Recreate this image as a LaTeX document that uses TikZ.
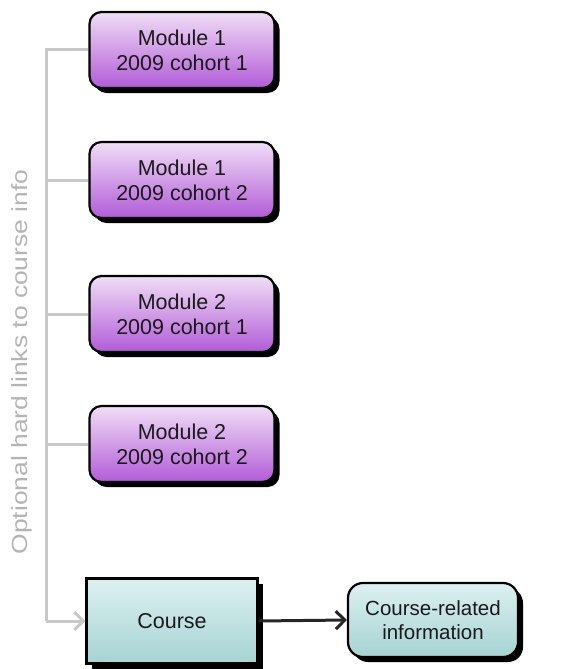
\documentclass[tikz,border=0pt]{standalone}
\usepackage{fontspec}
\setmainfont{Liberation Sans}
\usetikzlibrary{shadows,arrows.meta}
\definecolor{purpTop}{HTML}{F0DDF6}
\definecolor{purpBot}{HTML}{B25BD8}
\definecolor{tealTop}{HTML}{DDF0F0}
\definecolor{tealBot}{HTML}{A6D3D3}
\definecolor{linkgray}{HTML}{C8C8C8}
\definecolor{labelgray}{HTML}{B4B4B4}
\definecolor{txt}{HTML}{1A1A1A}
\tikzset{
  modbox/.style={draw=black, line width=2.2pt, rounded corners=12pt,
    top color=purpTop, bottom color=purpBot,
    minimum width=185pt, minimum height=76pt, inner sep=0pt,
    align=center, text=txt, font=\fontsize{21.5}{25}\selectfont,
    drop shadow={shadow xshift=5pt, shadow yshift=-5pt, fill=black, opacity=1}},
  coursebox/.style={draw=black, line width=2.2pt,
    top color=tealTop, bottom color=tealBot,
    minimum width=171pt, minimum height=85pt, inner sep=0pt,
    align=center, text=txt, font=\fontsize{21.5}{25}\selectfont,
    drop shadow={shadow xshift=5pt, shadow yshift=-5pt, fill=black, opacity=1}},
  infobox/.style={draw=black, line width=2.2pt, rounded corners=15pt,
    top color=tealTop, bottom color=tealBot,
    minimum width=170pt, minimum height=74pt, inner sep=0pt,
    align=center, text=txt, font=\fontsize{20.5}{24}\selectfont,
    drop shadow={shadow xshift=5pt, shadow yshift=-5pt, fill=black, opacity=1}},
  linkline/.style={draw=linkgray, line width=3pt},
  mainarrow/.style={draw=black!85, line width=3pt, -{Straight Barb[length=9pt,width=18pt,line width=3pt]}},
}
\begin{document}
\begin{tikzpicture}[x=1pt,y=-1pt]
\useasboundingbox (0,0) rectangle (576,669);
\node[modbox] (m1) at (182,50) {Module 1\\2009 cohort 1};
\node[modbox] (m2) at (182,180) {Module 1\\2009 cohort 2};
\node[modbox] (m3) at (182,314) {Module 2\\2009 cohort 1};
\node[modbox] (m4) at (182,444) {Module 2\\2009 cohort 2};
\node[coursebox] (course) at (172,621) {Course};
\node[infobox] (info) at (433,620) {Course-related\\information};
\coordinate (top) at (46,50);
\coordinate (corner) at (46,621);
\coordinate (b2) at (46,180);
\coordinate (b3) at (46,314);
\coordinate (b4) at (46,444);
\draw[linkline] (m1.west) -- (top) -- (corner);
\draw[linkline] (b2) -- (m2.west);
\draw[linkline] (b3) -- (m3.west);
\draw[linkline] (b4) -- (m4.west);
\draw[linkline, -{Straight Barb[length=9pt,width=18pt,line width=3pt]}] (corner) -- (course.west);
\draw[mainarrow] (course.east) -- (info.west);
\node[rotate=90, text=labelgray, font=\fontsize{22}{26}\selectfont, inner sep=0pt] (lbl) at (22,362)
  {\scalebox{1.2}[1]{Optional hard links to course info}};
\end{tikzpicture}
\end{document}
